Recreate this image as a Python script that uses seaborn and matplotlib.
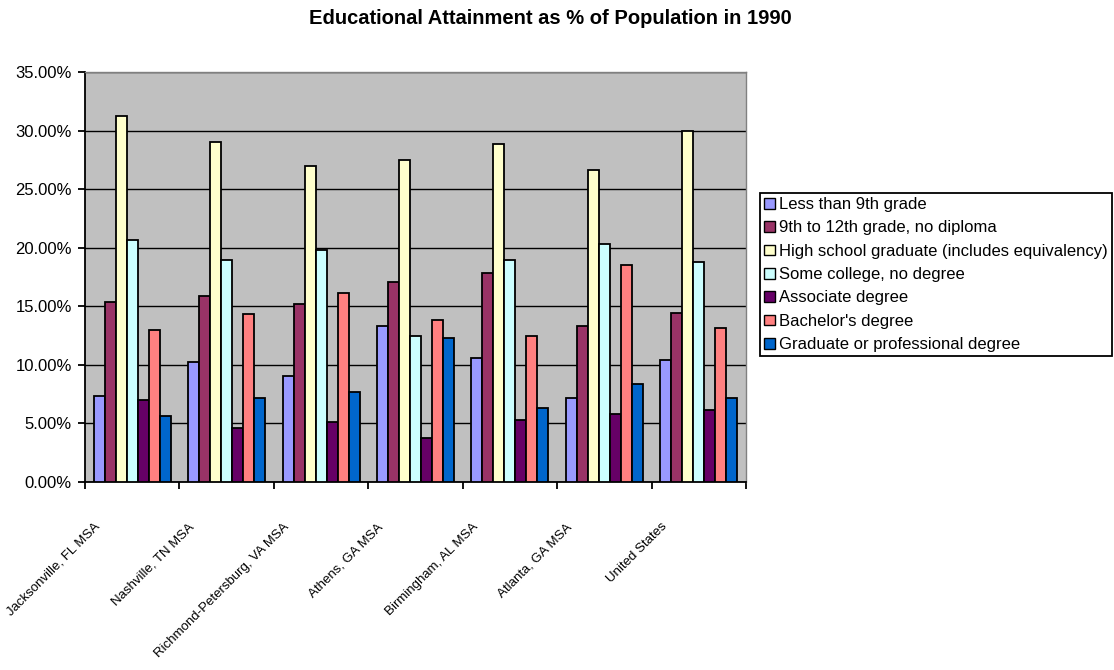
import matplotlib
matplotlib.use("Agg")
import matplotlib.pyplot as plt
from matplotlib.ticker import PercentFormatter, FixedLocator, NullFormatter
from matplotlib.patches import Patch
import seaborn as sns
import pandas as pd

# Regions and attainment levels
regions = ["Jacksonville, FL MSA", "Nashville, TN MSA", "Richmond-Petersburg, VA MSA",
           "Athens, GA MSA", "Birmingham, AL MSA", "Atlanta, GA MSA", "United States"]
levels = ["Less than 9th grade", "9th to 12th grade, no diploma",
          "High school graduate (includes equivalency)", "Some college, no degree",
          "Associate degree", "Bachelor's degree", "Graduate or professional degree"]

# Percent of population (age 25+) by attainment level, one list per level
less_9th = [7.34, 10.21, 9.08, 13.35, 10.59, 7.20, 10.41]
grade_9_12 = [15.39, 15.85, 15.17, 17.10, 17.81, 13.32, 14.40]
high_school = [31.24, 29.05, 27.00, 27.46, 28.85, 26.66, 29.99]
some_college = [20.63, 18.95, 19.83, 12.43, 18.92, 20.29, 18.75]
associate = [7.03, 4.64, 5.15, 3.76, 5.26, 5.83, 6.15]
bachelor = [12.98, 14.31, 16.10, 13.86, 12.43, 18.50, 13.12]
graduate = [5.66, 7.14, 7.68, 12.26, 6.35, 8.34, 7.20]

series = [less_9th, grade_9_12, high_school, some_college, associate, bachelor, graduate]
colors = ["#9999FF", "#993366", "#FFFFCC", "#CCFFFF", "#660066", "#FF8080", "#0066CC"]

df = pd.DataFrame([
    {"region": r, "level": lvl, "pct": v}
    for lvl, vals in zip(levels, series)
    for r, v in zip(regions, vals)
])

sns.set_theme(style="white")
plt.rcParams["font.family"] = ["Liberation Sans", "DejaVu Sans"]
plt.rcParams["text.color"] = "black"
plt.rcParams["xtick.color"] = "black"
plt.rcParams["ytick.color"] = "black"
plt.rcParams["xtick.labelcolor"] = "black"
plt.rcParams["ytick.labelcolor"] = "black"

W, H = 1114, 670
fig = plt.figure(figsize=(W / 100, H / 100), dpi=100)
fig.patch.set_facecolor("white")
ax = fig.add_axes([85 / W, 1 - 482 / H, (746 - 85) / W, (482 - 72) / H])
ax.set_facecolor("#C0C0C0")

sns.barplot(data=df, x="region", y="pct", hue="level", hue_order=levels,
            order=regions, palette=colors, saturation=1, width=0.815, gap=0,
            edgecolor="black", linewidth=1.3, ax=ax, legend=False, zorder=3)

ax.set_ylim(0, 35)
ax.yaxis.set_major_locator(FixedLocator([0, 5, 10, 15, 20, 25, 30, 35]))
ax.yaxis.set_major_formatter(PercentFormatter(100, decimals=2))
ax.grid(axis="y", color="black", linewidth=1.0, zorder=0)
ax.set_axisbelow(True)
ax.set_xlabel("")
ax.set_ylabel("")

for s in ["top", "right"]:
    ax.spines[s].set_color("#808080")
    ax.spines[s].set_linewidth(1.0)
for s in ["left", "bottom"]:
    ax.spines[s].set_color("black")
    ax.spines[s].set_linewidth(1.3)

ax.tick_params(axis="y", which="major", direction="out", length=5, width=1.3,
               color="black", labelsize=12, pad=4.5, left=True)

# Category boundary tick marks on the x axis
ax.xaxis.set_minor_locator(FixedLocator([i - 0.5 for i in range(len(regions) + 1)]))
ax.xaxis.set_minor_formatter(NullFormatter())
ax.tick_params(axis="x", which="minor", direction="out", length=5, width=1.3,
               color="black", bottom=True)

# Slanted category labels, ending just left of each group's centre
label_pos = [i - 0.36 for i in range(len(regions))]
ax.set_xticks(label_pos)
ax.set_xticklabels(regions, rotation=45, ha="right", va="center",
                   rotation_mode="anchor", fontsize=9.5)
ax.tick_params(axis="x", which="major", length=0, pad=31)
ax.set_xlim(-0.5, len(regions) - 0.5)

fig.text(550 / W, 1 - 18 / H, "Educational Attainment as % of Population in 1990",
         ha="center", va="center", fontsize=14.5, fontweight="bold")

handles = [Patch(facecolor=c, edgecolor="black", linewidth=1.0) for c in colors]
leg = ax.legend(handles, levels, loc="upper left",
                bbox_to_anchor=(760 / W, 1 - 193 / H), bbox_transform=fig.transFigure,
                frameon=True, fancybox=False, framealpha=1, edgecolor="black",
                fontsize=12, handlelength=0.62, handleheight=0.62,
                handletextpad=0.25, labelspacing=0.5, borderpad=0.25,
                borderaxespad=0)
leg.get_frame().set_linewidth(1.3)

fig.savefig("out.png", dpi=100)
